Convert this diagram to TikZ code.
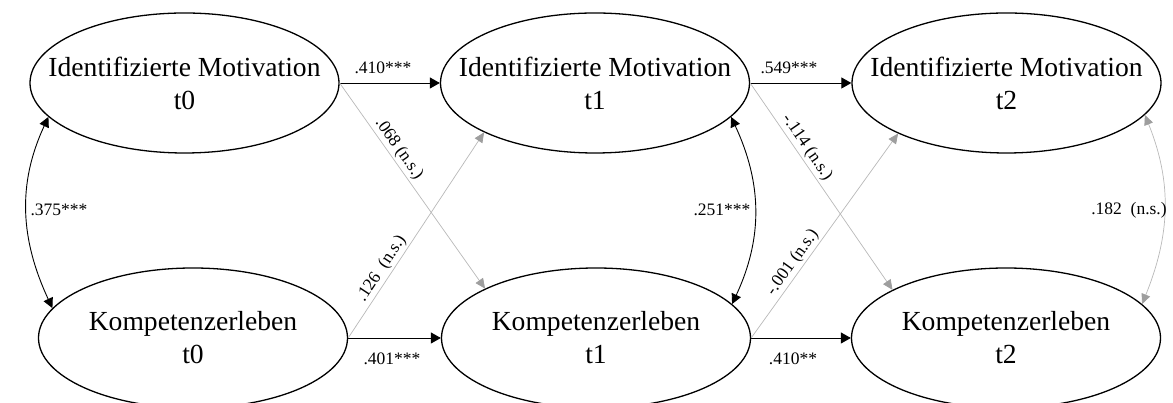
\documentclass[tikz,border=0pt]{standalone}
\usepackage{fontspec}
\setmainfont{Liberation Serif}
\usetikzlibrary{shapes.geometric,arrows.meta}
\begin{document}
\begin{tikzpicture}[x=1pt,y=1pt,
  latent/.style={ellipse,draw,line width=1.3pt,minimum width=309pt,minimum height=140pt,inner sep=0pt},
  vname/.style={align=center,font=\fontsize{27.6}{33}\selectfont,inner sep=0pt},
  coef/.style={font=\fontsize{17.5}{20}\selectfont,inner sep=2pt},
  sigpath/.style={line width=0.9pt,-{Triangle[length=10pt,width=11pt]}},
  sigcov/.style={line width=0.9pt,{Triangle[length=10pt,width=10pt]}-{Triangle[length=10pt,width=10pt]}},
  nspath/.style={draw=black!28,line width=0.7pt,-{Triangle[length=10pt,width=9pt,color=black!38]}},
  nscov/.style={draw=black!28,line width=0.7pt,{Triangle[length=10pt,width=9pt,color=black!38]}-{Triangle[length=10pt,width=9pt,color=black!38]}}
]
\useasboundingbox (0,0) rectangle (1173,403);

% latent variables
\node[latent] (im0) at (184.5,320) {};
\node[latent] (im1) at (595,320) {};
\node[latent] (im2) at (1006.5,320) {};
\node[latent] (ke0) at (193,65) {};
\node[latent] (ke1) at (596,65) {};
\node[latent] (ke2) at (1006,65) {};

\node[vname] (im0t) at (im0) {Identifizierte Motivation\\t0};
\node[vname] (im1t) at (im1) {Identifizierte Motivation\\t1};
\node[vname] (im2t) at (im2) {Identifizierte Motivation\\t2};
\node[vname] (ke0t) at (ke0) {Kompetenzerleben\\t0};
\node[vname] (ke1t) at (ke1) {Kompetenzerleben\\t1};
\node[vname] (ke2t) at (ke2) {Kompetenzerleben\\t2};

% autoregressive paths
\draw[sigpath] (im0.east) -- (im1.west);
\draw[sigpath] (im1.east) -- (im2.west);
\draw[sigpath] (ke0.east) -- (ke1.west);
\draw[sigpath] (ke1.east) -- (ke2.west);
\node[coef] (c1) at (383,335) {.410***};
\node[coef] (c2) at (789,335) {.549***};
\node[coef] (c3) at (392,44) {.401***};
\node[coef] (c4) at (793,44) {.410**};

% cross-lagged paths (not significant)
\draw[nspath] (im0.east) -- node[coef,pos=0.35,sloped,above] (c5) {.068 (n.s.)} (ke1.156);
\draw[nspath] (ke0.east) -- node[coef,pos=0.31,sloped,above] (c6) {.126 \ (n.s.)} (im1.204);
\draw[nspath] (im1.east) -- node[coef,pos=0.34,sloped,above] (c7) {-.114 (n.s.)} (ke2.157);
\draw[nspath] (ke1.east) -- node[coef,pos=0.34,sloped,above] (c8) {-.001 (n.s.)} (im2.205);

% covariances
\draw[sigcov] (im0.194) to[out=245,in=115] (ke0.168);
\draw[sigcov] (im1.346) to[out=-65,in=65] (ke1.14);
\draw[nscov] (im2.347) to[out=-68,in=68] (ke2.14.5);
\node[coef] (c9) at (59,193) {.375***};
\node[coef] (c10) at (722,193) {.251***};
\node[coef] (c11) at (1129,193) {.182 \ (n.s.)};
\end{tikzpicture}
\end{document}
